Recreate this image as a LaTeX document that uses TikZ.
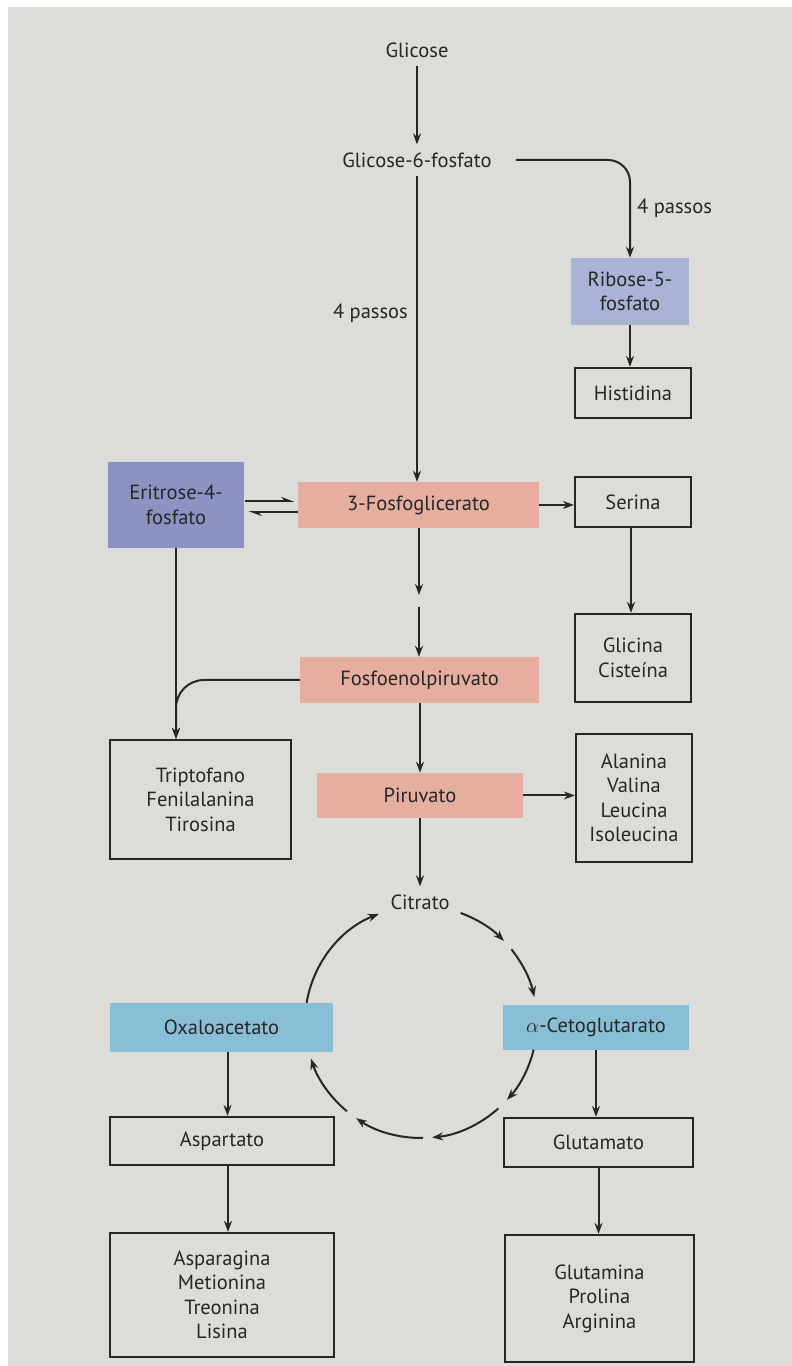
\documentclass[tikz,border=0pt]{standalone}
\usepackage{fontspec}
\setmainfont{PT Sans}
\usetikzlibrary{arrows.meta,calc}
\definecolor{bg}{HTML}{DCDCD8}
\definecolor{ink}{HTML}{262626}
\definecolor{ribc}{HTML}{A8B3D6}
\definecolor{eric}{HTML}{8C92C2}
\definecolor{salm}{HTML}{E6AE9E}
\definecolor{skyc}{HTML}{88BFD6}
\begin{document}
\begin{tikzpicture}[x=1pt,y=1pt,
  font=\fontsize{20.5}{24.5}\selectfont,
  every node/.style={text=ink, align=center},
  txt/.style={inner xsep=2pt, inner ysep=8pt},
  obox/.style={draw=ink, line width=2.2pt, inner sep=2pt},
  cbox/.style={inner sep=2pt},
  arr/.style={draw=ink, line width=2pt, -{Stealth[length=11pt,width=8pt]}},
  harp/.style={draw=ink, line width=2pt, -{Stealth[length=11pt,width=8pt,harpoon]}},
  lbl/.style={inner sep=1pt}]
\useasboundingbox (0,0) rectangle (792,1366);
\fill[white] (0,0) rectangle (792,1366);
\fill[bg] (7.5,0) rectangle (792,1358.5);

% nodes
\node[txt] (glc) at (417,1316) {Glicose};
\node[txt] (g6p) at (417,1206) {Glicose-6-fosfato};
\node[cbox, fill=ribc, minimum width=118pt, minimum height=67pt] (rib) at (630,1074.5) {Ribose-5-\\fosfato};
\node[obox, minimum width=116pt, minimum height=50pt] (his) at (633,973) {Histidina};
\node[cbox, fill=salm, minimum width=241pt, minimum height=46pt] (pg) at (418.5,861) {3-Fosfoglicerato};
\node[cbox, fill=eric, minimum width=136pt, minimum height=86pt] (eri) at (176,861) {Eritrose-4-\\fosfato};
\node[obox, minimum width=116pt, minimum height=50pt] (ser) at (633,864) {Serina};
\node[obox, minimum width=116pt, minimum height=88pt] (gli) at (633,708) {Glicina\\Cisteína};
\node[cbox, fill=salm, minimum width=239pt, minimum height=46pt] (pep) at (419.5,686) {Fosfoenolpiruvato};
\node[obox, minimum width=181pt, minimum height=119pt] (tri) at (200.5,566.5) {Triptofano\\Fenilalanina\\Tirosina};
\node[cbox, fill=salm, minimum width=206pt, minimum height=45pt] (pyr) at (420,570.5) {Piruvato};
\node[obox, minimum width=116pt, minimum height=128pt] (ala) at (634,568) {Alanina\\Valina\\Leucina\\Isoleucina};
\node[txt] (cit) at (420,464) {Citrato};
\node[cbox, fill=skyc, minimum width=223pt, minimum height=49pt] (oxa) at (221.5,338.5) {Oxaloacetato};
\node[cbox, fill=skyc, minimum width=186pt, minimum height=45pt] (akg) at (596,338.5) {$\alpha$-Cetoglutarato};
\node[obox, minimum width=224pt, minimum height=48pt] (asp) at (222,225) {Aspartato};
\node[obox, minimum width=224pt, minimum height=124pt] (asn) at (222,71) {Asparagina\\Metionina\\Treonina\\Lisina};
\node[obox, minimum width=189pt, minimum height=49pt] (glu) at (598.5,223.5) {Glutamato};
\node[obox, minimum width=189pt, minimum height=127pt] (gln) at (599.5,67.5) {Glutamina\\Prolina\\Arginina};

\node[lbl, anchor=west] (l1) at (636,1158) {4 passos};
\node[lbl, anchor=east] (l2) at (409,1053) {4 passos};

\coordinate (m1) at (419,765);
\coordinate (cyc) at (421,344);

% connectors
\draw[arr] (glc) -- (g6p);
\draw[arr] (g6p.south) -- (g6p.south |- pg.north);
\draw[arr, rounded corners=22pt, shorten <=22pt] (g6p.east) -| (rib.north);
\draw[arr] (rib.south) -- (rib.south |- his.north);
\draw[harp] ([yshift=4pt,xshift=1pt]eri.east) -- ([yshift=4pt,xshift=-3pt]pg.west);
\draw[harp] ([yshift=-7pt,xshift=0pt]pg.west) -- ([yshift=-7pt,xshift=4pt]eri.east);
\draw[arr] (pg.east) -- (pg.east -| ser.west);
\draw[arr] ([xshift=-2pt]ser.south) -- ([xshift=-2pt]gli.north);
\draw[arr] (m1 |- pg.south) -- ([yshift=6pt]m1);
\draw[arr] ([yshift=-6pt]m1) -- (m1 |- pep.north);
\draw[arr] (eri.south) -- (tri.north -| eri.south);
\draw[arr, rounded corners=28pt] (pep.west) -| (tri.north -| eri.south);
\draw[arr] (pep.south -| pyr.north) -- (pyr.north);
\draw[arr] (pyr.east) -- (pyr.east -| ala.west);
\draw[arr] (pyr.south) -- (pyr.south |- cit.north);

% cycle
\draw[arr] ($(cyc)+(170.5:116pt)$) arc[start angle=170.5,end angle=111.3,radius=116pt];
\draw[arr] ($(cyc)+(70:116pt)$) arc[start angle=70,end angle=44.3,radius=116pt];
\draw[arr] ($(cyc)+(38.8:116pt)$) arc[start angle=38.8,end angle=12.4,radius=116pt];
\draw[arr] ($(cyc)+(-13.8:116pt)$) arc[start angle=-13.8,end angle=-42.2,radius=116pt];
\draw[arr] ($(cyc)+(-48.2:116pt)$) arc[start angle=-48.2,end angle=-84.5,radius=116pt];
\draw[arr] ($(cyc)+(-89:116pt)$) arc[start angle=-89,end angle=-124,radius=116pt];
\draw[arr] ($(cyc)+(-129.7:116pt)$) arc[start angle=-129.7,end angle=-161.6,radius=116pt];

\draw[arr] ([xshift=6pt]oxa.south) -- ([xshift=6pt]oxa.south |- asp.north);
\draw[arr] ([xshift=6pt]asp.south) -- ([xshift=6pt]asn.north);
\draw[arr] (akg.south) -- (akg.south |- glu.north);
\draw[arr] (glu.south) -- (glu.south |- gln.north);
\end{tikzpicture}
\end{document}
